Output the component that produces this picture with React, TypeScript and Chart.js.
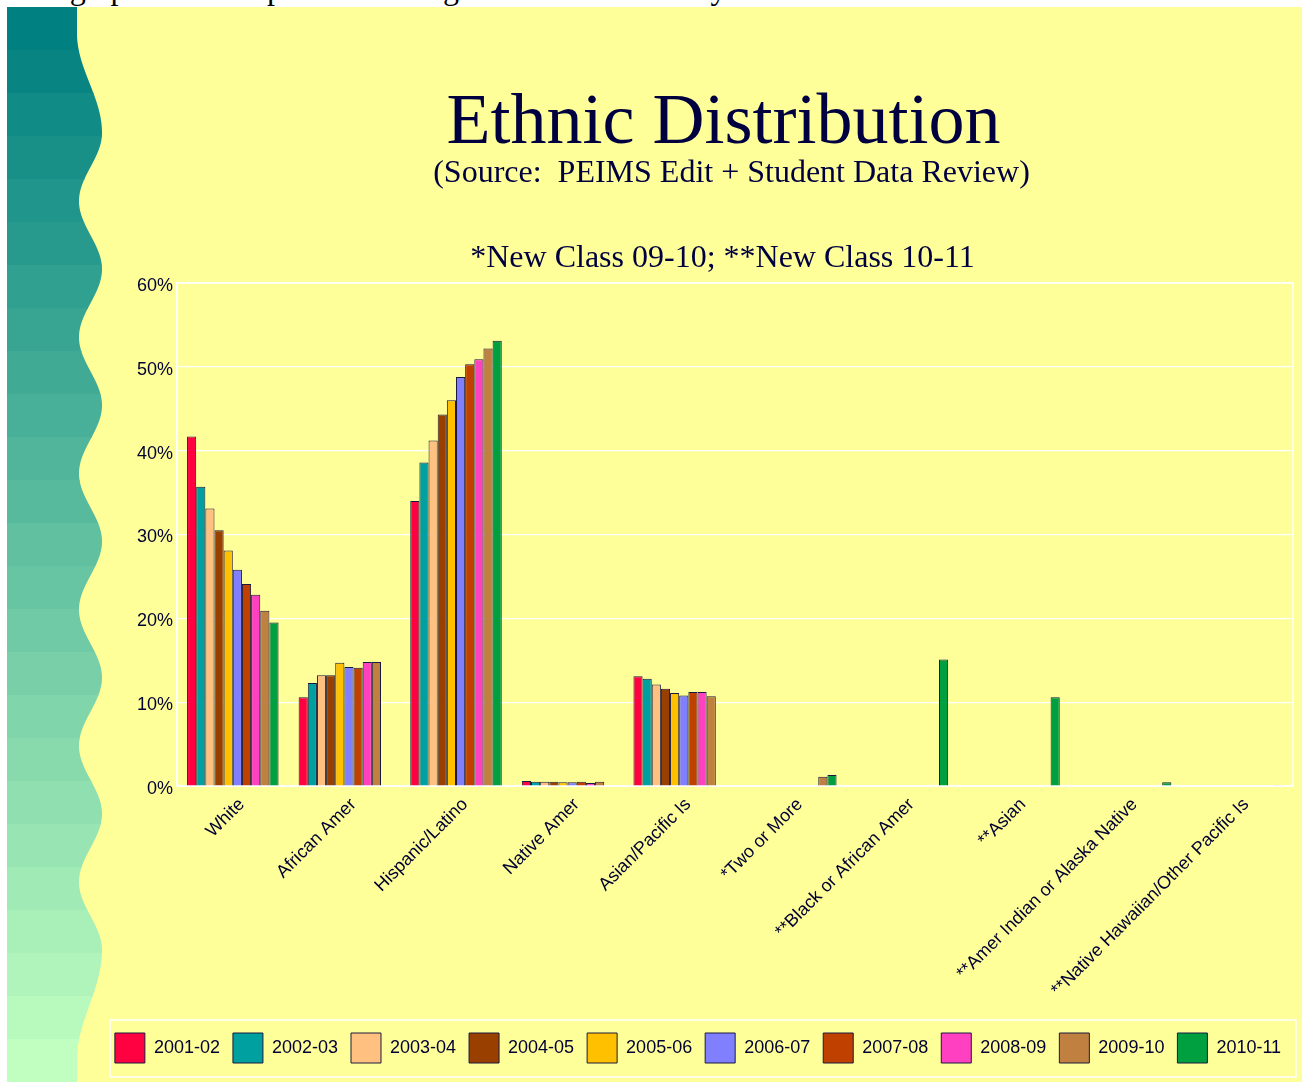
import React, { useEffect, useRef } from 'react';
import { Chart, registerables } from 'chart.js';

Chart.register(...registerables);

// ---- data ----
const categories = [
  'White',
  'African Amer',
  'Hispanic/Latino',
  'Native Amer',
  'Asian/Pacific Is',
  '*Two or More',
  '**Black or African Amer',
  '**Asian',
  '**Amer Indian or Alaska Native',
  '**Native Hawaiian/Other Pacific Is',
];

const seasons = ['2001-02', '2002-03', '2003-04', '2004-05', '2005-06', '2006-07', '2007-08', '2008-09', '2009-10', '2010-11'];

const seasonColors = ['#FF0040', '#00A0A0', '#FFC080', '#994000', '#FFC000', '#8080FF', '#C04000', '#FF40C0', '#C08040', '#00A040'];

const s2001_02 = [41.7, 10.6, 34.0, 0.6, 13.1, null, null, null, null, null];
const s2002_03 = [35.7, 12.3, 38.6, 0.5, 12.8, null, null, null, null, null];
const s2003_04 = [33.1, 13.2, 41.2, 0.5, 12.1, null, null, null, null, null];
const s2004_05 = [30.5, 13.2, 44.3, 0.5, 11.6, null, null, null, null, null];
const s2005_06 = [28.1, 14.7, 46.0, 0.45, 11.1, null, null, null, null, null];
const s2006_07 = [25.8, 14.2, 48.8, 0.45, 10.8, null, null, null, null, null];
const s2007_08 = [24.1, 14.1, 50.3, 0.5, 11.2, null, null, null, null, null];
const s2008_09 = [22.8, 14.8, 50.9, 0.35, 11.2, null, null, null, null, null];
const s2009_10 = [20.9, 14.8, 52.2, 0.5, 10.7, 1.1, null, null, null, null];
const s2010_11 = [19.5, null, 53.1, null, null, 1.3, 15.1, 10.6, 0.45, 0.1];

const seriesValues = [s2001_02, s2002_03, s2003_04, s2004_05, s2005_06, s2006_07, s2007_08, s2008_09, s2009_10, s2010_11];

const yMin = 0;
const yMax = 60;
const yStep = 10;

// ---- decoration helpers ----
const FRAME_X = 7;
const FRAME_Y = 7;
const CANVAS_W = 1295;
const CANVAS_H = 1075;

function buildWave(): [number, number][] {
  const pts: [number, number][] = [[0, 77], [33, 77], [133, 102]];
  const half = (950 - 133) / 12;
  for (let k = 1; k <= 12; k++) {
    pts.push([133 + half * k, k % 2 === 0 ? 102 : 79]);
  }
  pts.push([1060, 77]);
  pts.push([1200, 77]);
  return pts;
}
const wavePts = buildWave();

function edgeX(yp: number): number {
  for (let i = 0; i < wavePts.length - 1; i++) {
    const [y0, x0] = wavePts[i];
    const [y1, x1] = wavePts[i + 1];
    if (yp >= y0 && yp <= y1) {
      const t = (yp - y0) / (y1 - y0);
      return x0 + (x1 - x0) * (1 - Math.cos(Math.PI * t)) / 2;
    }
  }
  return 77;
}

const pagePlugin = {
  id: 'pageDecor',
  beforeDraw(chart: any) {
    const ctx = chart.ctx as CanvasRenderingContext2D;
    const W = chart.width;
    const H = chart.height;
    ctx.save();
    ctx.fillStyle = '#FFFF99';
    ctx.fillRect(0, 0, W, H);
    ctx.beginPath();
    ctx.moveTo(0, 0);
    for (let y = 0; y <= H; y++) {
      ctx.lineTo(edgeX(y + FRAME_Y) - FRAME_X, y);
    }
    ctx.lineTo(0, H);
    ctx.closePath();
    ctx.clip();
    const N = 25;
    const bh = H / N;
    const c0 = [0, 128, 128];
    const c1 = [192, 255, 192];
    for (let i = 0; i < N; i++) {
      const t = i / (N - 1);
      const c = c0.map((v, j) => Math.round(v + (c1[j] - v) * t));
      ctx.fillStyle = `rgb(${c[0]},${c[1]},${c[2]})`;
      ctx.fillRect(0, Math.floor(i * bh), 130, Math.ceil(bh) + 1);
    }
    ctx.restore();
  },
  afterLayout(chart: any) {
    const lg = chart.legend;
    if (lg) {
      lg.left += 8;
      lg.right += 8;
    }
  },
  beforeDatasetsDraw(chart: any) {
    const ctx = chart.ctx as CanvasRenderingContext2D;
    const a = chart.chartArea;
    ctx.save();
    ctx.strokeStyle = '#FFFFFF';
    ctx.lineWidth = 1.5;
    ctx.strokeRect(a.left, a.top, a.right - a.left, a.bottom - a.top);
    ctx.restore();
  },
  afterDraw(chart: any) {
    const lg = chart.legend;
    if (!lg) return;
    const ctx = chart.ctx as CanvasRenderingContext2D;
    ctx.save();
    ctx.strokeStyle = '#FFFFFF';
    ctx.lineWidth = 1.5;
    ctx.strokeRect(lg.left + 15, lg.top, lg.right - 5 - (lg.left + 15), 57);
    ctx.restore();
  },
};

const navy = '#000033';
const sansFont = "Arial, 'Liberation Sans', sans-serif";

export default function App() {
  const canvasRef = useRef<HTMLCanvasElement | null>(null);

  useEffect(() => {
    if (!canvasRef.current) return;
    const chart = new Chart(canvasRef.current, {
      type: 'bar',
      data: {
        labels: categories,
        datasets: seasons.map((s, i) => ({
          label: s,
          data: seriesValues[i],
          backgroundColor: seasonColors[i],
          borderColor: '#1a1a40',
          borderWidth: 1,
          categoryPercentage: 0.82,
          barPercentage: 1.0,
        })),
      },
      options: {
        responsive: false,
        animation: false,
        layout: { padding: { left: 80, right: 9, top: 276, bottom: 9 } },
        plugins: {
          title: { display: false },
          tooltip: { enabled: false },
          legend: {
            display: true,
            position: 'bottom',
            labels: {
              boxWidth: 30,
              boxHeight: 30,
              padding: 13,
              color: navy,
              font: { family: sansFont, size: 18 },
            },
          },
        },
        scales: {
          x: {
            grid: { display: false, drawTicks: false },
            border: { display: true, color: '#FFFFFF', width: 1.5 },
            ticks: {
              autoSkip: false,
              minRotation: 45,
              maxRotation: 45,
              padding: 8,
              labelOffset: 9,
              color: navy,
              font: { family: sansFont, size: 18 },
            },
            afterFit: (scale: any) => {
              scale.height = 234;
            },
          },
          y: {
            min: yMin,
            max: yMax,
            grid: { color: '#FFFFFF', lineWidth: 1.2, drawTicks: false },
            border: { display: true, color: '#FFFFFF', width: 1.5 },
            ticks: {
              stepSize: yStep,
              padding: 4,
              labelOffset: 3,
              color: navy,
              font: { family: sansFont, size: 18 },
              callback: (v: any) => `${v}%`,
            },
            afterFit: (scale: any) => {
              scale.width = 90;
            },
          },
        },
      },
      plugins: [pagePlugin],
    });
    return () => chart.destroy();
  }, []);

  const serif = "'Times New Roman', 'Liberation Serif', serif";
  const titleColor = '#000040';

  return (
    <>
      <div
        style={{
          position: 'absolute',
          left: 12,
          top: -28,
          font: `32px ${serif}`,
          lineHeight: '32px',
          whiteSpace: 'nowrap',
          color: '#000',
          zIndex: 0,
        }}
      >
        The graph below depicts the change in student ethnicity over time.
      </div>
      <canvas
        ref={canvasRef}
        width={CANVAS_W}
        height={CANVAS_H}
        style={{ position: 'absolute', left: FRAME_X, top: FRAME_Y, width: CANVAS_W, height: CANVAS_H, zIndex: 1 }}
      />
      <div
        style={{
          position: 'absolute',
          left: 223.5,
          width: 1000,
          top: 82.7,
          textAlign: 'center',
          font: `72px ${serif}`,
          lineHeight: '72px',
          color: titleColor,
          whiteSpace: 'nowrap',
          zIndex: 2,
        }}
      >
        Ethnic Distribution
      </div>
      <div
        style={{
          position: 'absolute',
          left: 231.5,
          width: 1000,
          top: 155.2,
          textAlign: 'center',
          font: `32px ${serif}`,
          lineHeight: '32px',
          color: titleColor,
          whiteSpace: 'pre',
          zIndex: 2,
        }}
      >
        {'(Source:  PEIMS Edit + Student Data Review)'}
      </div>
      <div
        style={{
          position: 'absolute',
          left: 222.5,
          width: 1000,
          top: 240.2,
          textAlign: 'center',
          font: `32px ${serif}`,
          lineHeight: '32px',
          color: titleColor,
          whiteSpace: 'nowrap',
          zIndex: 2,
        }}
      >
        *New Class 09-10; **New Class 10-11
      </div>
    </>
  );
}
